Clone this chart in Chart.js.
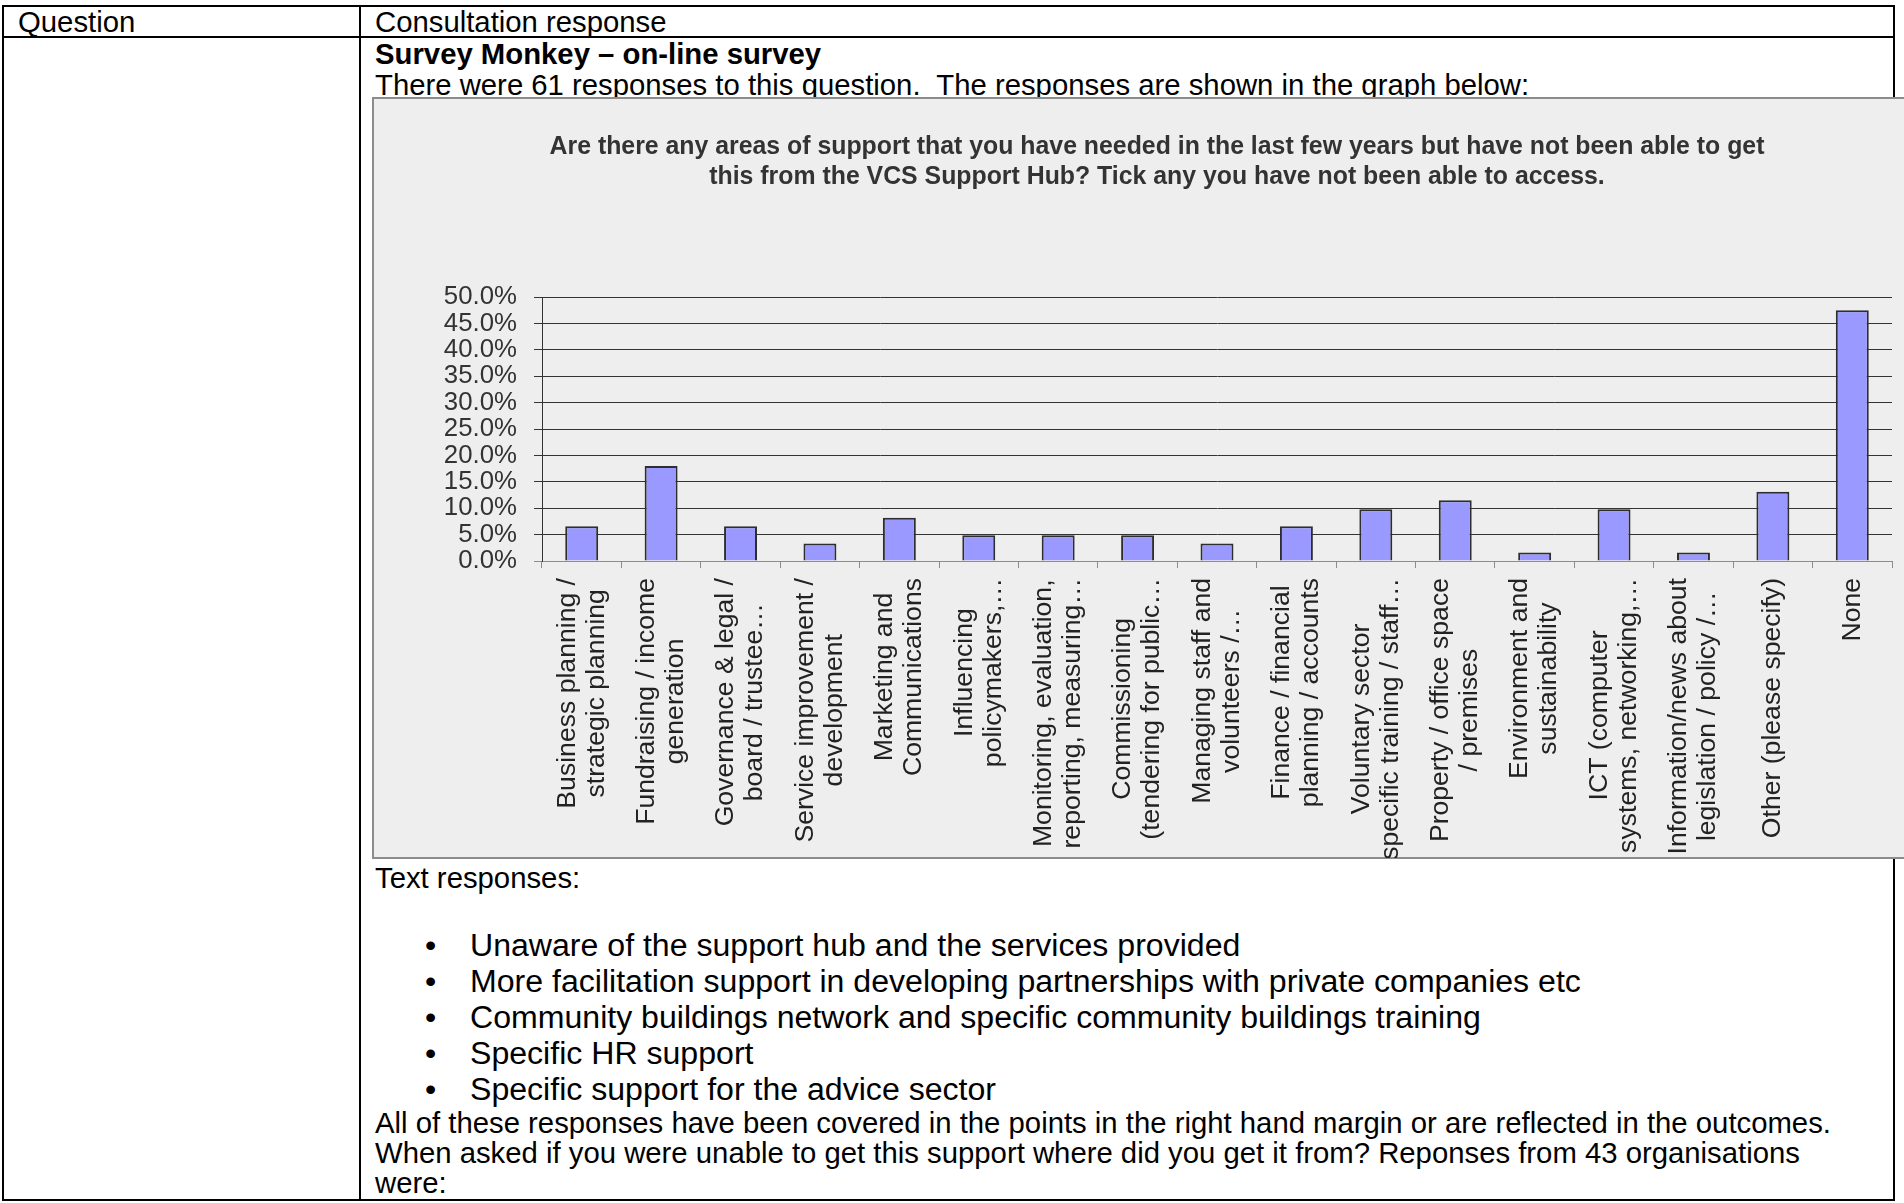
<!DOCTYPE html>
<html>

<head>
    <meta charset="utf-8">
    <title>Consultation response - support areas</title>
    <script src="https://cdn.jsdelivr.net/npm/chart.js"></script>
    <style>
        html, body {
            margin: 0;
            padding: 0;
            overflow: hidden;
            background: #fff;
        }
        body {
            width: 1904px;
            height: 1203px;
            position: relative;
            font-family: "Liberation Sans", Arial, sans-serif;
            color: #000;
        }
        .line {
            position: absolute;
            background: #000;
        }
        .txt {
            position: absolute;
            font-size: 29.3px;
            line-height: 30px;
            white-space: pre;
        }
        .bullets {
            position: absolute;
            left: 0;
            top: 927px;
            width: 1890px;
            font-size: 32.1px;
            line-height: 36.1px;
        }
        .bullets div { position: relative; height: 36.1px; }
        .bullets .dot { position: absolute; left: 425px; top: 0; }
        .bullets .item { position: absolute; left: 470px; top: 0; white-space: pre; }
        #box {
            position: absolute;
            left: 372px;
            top: 97px;
            width: 1600px;
            height: 762px;
            box-sizing: border-box;
            background: #eeeeee;
            border: 2px solid #8c8c8c;
        }
        #grafica {
            position: absolute;
            left: 375px;
            top: 99px;
        }
    </style>
</head>

<body>
    <!-- table frame -->
    <div class="line" style="left:2px;top:5px;width:1893px;height:2px"></div>
    <div class="line" style="left:2px;top:36px;width:1893px;height:2px"></div>
    <div class="line" style="left:2px;top:1199px;width:1893px;height:2px"></div>
    <div class="line" style="left:2px;top:5px;width:2px;height:1196px"></div>
    <div class="line" style="left:359px;top:5px;width:2px;height:1196px"></div>
    <div class="line" style="left:1893px;top:5px;width:2px;height:1196px"></div>

    <div class="txt" style="left:18px;top:7px">Question</div>
    <div class="txt" style="left:375px;top:7px">Consultation response</div>
    <div class="txt" style="left:375px;top:39px;font-weight:bold">Survey Monkey – on-line survey</div>
    <div class="txt" style="left:375px;top:70px">There were 61 responses to this question.  The responses are shown in the graph below:</div>

    <div id="box"></div>
    <canvas id="grafica" width="1564" height="759"></canvas>

    <div class="txt" style="left:375px;top:863px">Text responses:</div>
    <div class="bullets">
        <div><span class="dot">•</span><span class="item">Unaware of the support hub and the services provided</span></div>
        <div><span class="dot">•</span><span class="item">More facilitation support in developing partnerships with private companies etc</span></div>
        <div><span class="dot">•</span><span class="item">Community buildings network and specific community buildings training</span></div>
        <div><span class="dot">•</span><span class="item">Specific HR support</span></div>
        <div><span class="dot">•</span><span class="item">Specific support for the advice sector</span></div>
    </div>
    <div class="txt" style="left:375px;top:1108px">All of these responses have been covered in the points in the right hand margin or are reflected in the outcomes.
When asked if you were unable to get this support where did you get it from? Reponses from 43 organisations
were:</div>

    <script>
        // categories, two lines each as shown under the axis
        const categorias = [
            ['Business planning /', 'strategic planning'],
            ['Fundraising / income', 'generation'],
            ['Governance & legal /', 'board / trustee…'],
            ['Service improvement /', 'development'],
            ['Marketing and', 'Communications'],
            ['Influencing', 'policymakers,…'],
            ['Monitoring, evaluation,', 'reporting, measuring…'],
            ['Commissioning', '(tendering for public…'],
            ['Managing staff and', 'volunteers /…'],
            ['Finance / financial', 'planning / accounts'],
            ['Voluntary sector', 'specific training / staff…'],
            ['Property / office space', '/ premises'],
            ['Environment and', 'sustainability'],
            ['ICT (computer', 'systems, networking,…'],
            ['Information/news about', 'legislation / policy /…'],
            ['Other (please specify)'],
            ['None']
        ];

        // percentage of respondents
        const porcentajes = [6.6, 18.0, 6.6, 3.3, 8.2, 4.9, 4.9, 4.9, 3.3, 6.6, 9.8, 11.5, 1.6, 9.8, 1.6, 13.1, 47.5];

        const ejeY = { min: 0, max: 50, paso: 5 };

        const titulo = [
            'Are there any areas of support that you have needed in the last few years but have not been able to get',
            'this from the VCS Support Hub? Tick any you have not been able to access.'
        ];

        const fuente = '"Liberation Sans", Arial, sans-serif';

        // vertical category labels, each block centred on its line
        const etiquetasX = {
            id: 'etiquetasX',
            afterDraw(chart) {
                const ctx = chart.ctx;
                const x = chart.scales.x;
                const alto = 29;
                ctx.save();
                ctx.font = '26.6px ' + fuente;
                ctx.fillStyle = '#222';
                ctx.textAlign = 'center';
                ctx.textBaseline = 'middle';
                chart.data.labels.forEach((lineas, i) => {
                    const px = x.getPixelForTick(i);
                    const ancho = Math.max(...lineas.map(l => ctx.measureText(l).width));
                    ctx.save();
                    ctx.translate(px, x.top + 17 + ancho / 2);
                    ctx.rotate(-Math.PI / 2);
                    lineas.forEach((l, j) => {
                        ctx.fillText(l, 0, (j - (lineas.length - 1) / 2) * alto);
                    });
                    ctx.restore();
                });
                ctx.restore();
            }
        };

        const ctx = document.getElementById('grafica').getContext('2d');
        const chart = new Chart(ctx, {
            type: 'bar',
            data: {
                labels: categorias,
                datasets: [{
                    data: porcentajes,
                    backgroundColor: '#9999ff',
                    borderColor: '#2e2e2e',
                    borderWidth: 2,
                    categoryPercentage: 1,
                    barPercentage: 0.415
                }]
            },
            options: {
                responsive: false,
                animation: false,
                devicePixelRatio: 1,
                // equal side padding keeps the title centred on the whole chart box
                layout: { padding: { left: 47, right: 47, top: 0, bottom: 0 } },
                plugins: {
                    legend: { display: false },
                    tooltip: { enabled: false },
                    title: {
                        display: true,
                        text: titulo,
                        color: '#333',
                        font: { family: fuente, size: 24.85, weight: 'bold', lineHeight: 30.5 / 24.85 },
                        padding: { top: 32.5, bottom: 104.5 }
                    }
                },
                scales: {
                    x: {
                        offset: true,
                        grid: {
                            drawOnChartArea: false,
                            drawTicks: true,
                            tickLength: 7,
                            color: '#8c8c8c',
                            offset: true
                        },
                        border: { color: '#8c8c8c', width: 1 },
                        ticks: { display: false, autoSkip: false },
                        afterFit(scale) { scale.height = 297; }
                    },
                    y: {
                        min: ejeY.min,
                        max: ejeY.max,
                        grid: {
                            color: c => (c.tick && c.tick.value === 0) ? '#8c8c8c' : '#333',
                            lineWidth: 1,
                            tickLength: 8
                        },
                        border: { color: '#333', width: 1 },
                        ticks: {
                            stepSize: ejeY.paso,
                            autoSkip: false,
                            padding: 17,
                            color: '#333',
                            font: { family: fuente, size: 25.8 },
                            callback: v => v.toFixed(1) + '%'
                        },
                        afterFit(scale) { scale.width = 120; }
                    }
                }
            },
            plugins: [etiquetasX]
        });
    </script>
</body>

</html>
